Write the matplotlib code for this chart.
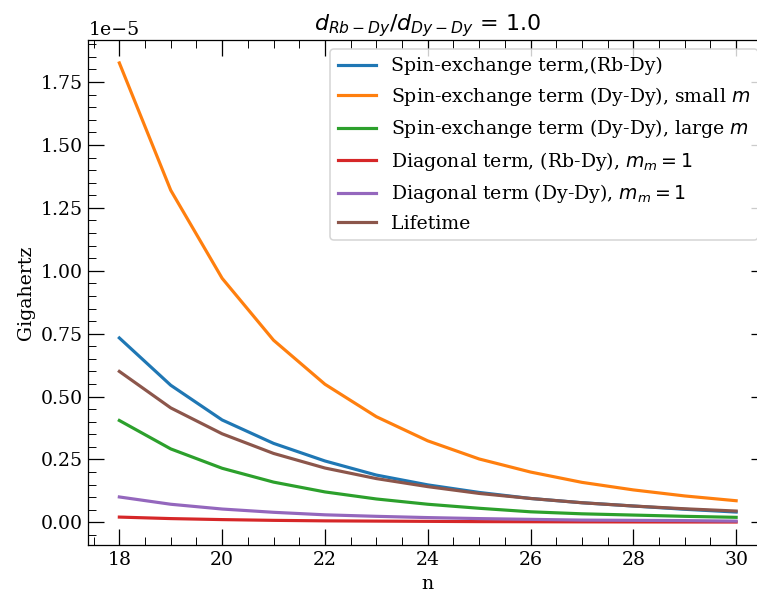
import numpy as np
import matplotlib.pyplot as plt
from matplotlib.ticker import AutoMinorLocator

n = np.arange(18, 31)

# values in units of 1e-5 GHz
se_rbdy = [0.733, 0.545, 0.407, 0.314, 0.244, 0.188, 0.149, 0.119, 0.095, 0.078, 0.065, 0.052, 0.041]
se_dydy_small = [1.826, 1.32, 0.970, 0.724, 0.549, 0.420, 0.324, 0.252, 0.200, 0.159, 0.129, 0.105, 0.086]
se_dydy_large = [0.405, 0.292, 0.215, 0.160, 0.121, 0.093, 0.072, 0.056, 0.042, 0.034, 0.029, 0.024, 0.020]
diag_rbdy = [0.021, 0.015, 0.011, 0.008, 0.006, 0.005, 0.004, 0.003, 0.0025, 0.002, 0.0017, 0.0015, 0.0013]
diag_dydy = [0.101, 0.072, 0.053, 0.040, 0.030, 0.024, 0.019, 0.015, 0.012, 0.009, 0.008, 0.007, 0.005]
lifetime = [0.600, 0.455, 0.352, 0.274, 0.216, 0.174, 0.142, 0.115, 0.095, 0.078, 0.065, 0.054, 0.045]

series = [
    (se_rbdy, 'Spin-exchange term,(Rb-Dy)'),
    (se_dydy_small, 'Spin-exchange term (Dy-Dy), small $m$'),
    (se_dydy_large, 'Spin-exchange term (Dy-Dy), large $m$'),
    (diag_rbdy, 'Diagonal term, (Rb-Dy), $m_m = 1$'),
    (diag_dydy, 'Diagonal term (Dy-Dy), $m_m = 1$'),
    (lifetime, 'Lifetime'),
]

plt.rcParams['font.family'] = 'DejaVu Serif'
plt.rcParams['font.size'] = 12

dpi = 113.6
fig = plt.figure(figsize=(757 / dpi, 594 / dpi), dpi=dpi)
ax = fig.add_axes([0.1169, 0.0825, 0.8963, 0.8502])
for vals, lab in series:
    ax.plot(n, np.array(vals) * 1e-5, lw=2, label=lab)

ax.set_xlabel('n')
ax.set_ylabel('Gigahertz')
ax.set_title(r'$d_{Rb-Dy}/d_{Dy-Dy}$ = 1.0', fontsize=14, family='DejaVu Sans')
ax.xaxis.set_minor_locator(AutoMinorLocator())
ax.yaxis.set_minor_locator(AutoMinorLocator())
ax.tick_params(which='both', direction='in', top=True, right=True)
ax.tick_params(which='major', length=10)
ax.tick_params(which='minor', length=5)
ax.legend(loc='upper right', fontsize=12)

fig.savefig('out.png', dpi=dpi)
